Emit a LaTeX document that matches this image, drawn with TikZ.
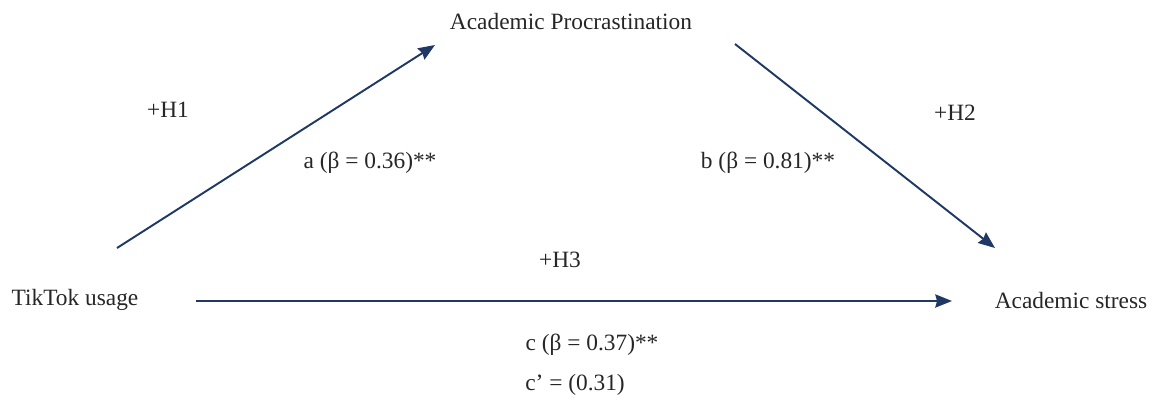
\documentclass[tikz,border=0pt]{standalone}
\usepackage{fontspec}
\setmainfont{Liberation Serif}
\usetikzlibrary{arrows.meta}
\definecolor{pathblue}{HTML}{1F3864}
\tikzset{
  lbl/.style={font=\fontsize{13.3}{16}\selectfont, text=black!85, inner sep=0pt},
  path arrow/.style={-{Stealth[length=9.5pt,width=7.5pt,inset=1pt]}, line width=1.1pt, draw=pathblue}
}
\begin{document}
\begin{tikzpicture}[x=0.02cm,y=-0.02cm]
\useasboundingbox (0,0) rectangle (1156,403);

\node[lbl] (proc) at (571,22) {Academic Procrastination};
\node[lbl] (tiktok) at (75,300) {TikTok usage};
\node[lbl] (stress) at (1071,300) {Academic stress};

\coordinate (a0) at (117,248);
\coordinate (a1) at (435,45);
\coordinate (b0) at (735,44);
\coordinate (b1) at (995,248);
\coordinate (c0) at (196,301);
\coordinate (c1) at (952,301);

\draw[path arrow] (a0) -- (a1);
\draw[path arrow] (b0) -- (b1);
\draw[path arrow] (c0) -- (c1);

\node[lbl] (h1) at (168,110) {+H1};
\node[lbl] (pa) at (370,163) {a (β = 0.36)**};
\node[lbl] (h2) at (955,113) {+H2};
\node[lbl] (pb) at (768,163) {b (β = 0.81)**};
\node[lbl] (h3) at (560,260) {+H3};
\node[lbl] (pc) at (592,345) {c (β = 0.37)**};
\node[lbl] (pcc) at (575,385) {c’ = (0.31)};
\end{tikzpicture}
\end{document}
